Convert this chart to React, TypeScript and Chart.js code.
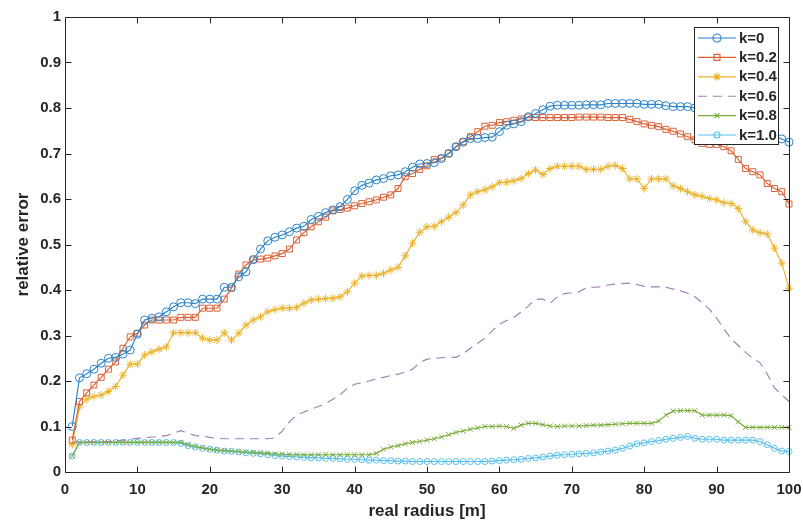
import React, { useEffect, useRef } from 'react';
import { Chart, registerables } from 'chart.js';
import { drawPoint } from 'chart.js/helpers';

Chart.register(...registerables);

// ---------- data ----------
const radius = [
  1, 2, 3, 4, 5, 6, 7, 8, 9, 10, 11, 12, 13, 14, 15, 16, 17, 18, 19, 20,
  21, 22, 23, 24, 25, 26, 27, 28, 29, 30, 31, 32, 33, 34, 35, 36, 37, 38, 39, 40,
  41, 42, 43, 44, 45, 46, 47, 48, 49, 50, 51, 52, 53, 54, 55, 56, 57, 58, 59, 60,
  61, 62, 63, 64, 65, 66, 67, 68, 69, 70, 71, 72, 73, 74, 75, 76, 77, 78, 79, 80,
  81, 82, 83, 84, 85, 86, 87, 88, 89, 90, 91, 92, 93, 94, 95, 96, 97, 98, 99, 100,
];

const errK0 = [
  0.100, 0.207, 0.216, 0.226, 0.239, 0.250, 0.252, 0.259, 0.268, 0.303,
  0.334, 0.338, 0.341, 0.352, 0.363, 0.372, 0.372, 0.370, 0.380, 0.380,
  0.380, 0.406, 0.406, 0.429, 0.440, 0.467, 0.490, 0.508, 0.516, 0.521,
  0.528, 0.536, 0.540, 0.555, 0.562, 0.570, 0.576, 0.583, 0.599, 0.618,
  0.630, 0.635, 0.642, 0.645, 0.651, 0.653, 0.660, 0.670, 0.677, 0.678,
  0.680, 0.689, 0.700, 0.715, 0.725, 0.733, 0.733, 0.735, 0.736, 0.748,
  0.762, 0.765, 0.770, 0.781, 0.788, 0.796, 0.804, 0.806, 0.806, 0.806,
  0.806, 0.807, 0.807, 0.807, 0.810, 0.810, 0.810, 0.810, 0.810, 0.808,
  0.808, 0.808, 0.805, 0.803, 0.803, 0.803, 0.800, 0.800, 0.798, 0.795,
  0.790, 0.785, 0.778, 0.770, 0.762, 0.755, 0.746, 0.738, 0.732, 0.725,
];

const errK02 = [
  0.070, 0.155, 0.174, 0.191, 0.208, 0.226, 0.242, 0.272, 0.297, 0.305,
  0.323, 0.334, 0.334, 0.334, 0.334, 0.340, 0.340, 0.340, 0.360, 0.360,
  0.360, 0.380, 0.404, 0.435, 0.455, 0.466, 0.468, 0.470, 0.475, 0.480,
  0.490, 0.510, 0.526, 0.539, 0.550, 0.560, 0.574, 0.577, 0.580, 0.585,
  0.590, 0.594, 0.598, 0.604, 0.609, 0.623, 0.649, 0.656, 0.665, 0.673,
  0.687, 0.690, 0.700, 0.715, 0.726, 0.737, 0.748, 0.760, 0.762, 0.768,
  0.770, 0.773, 0.776, 0.780, 0.779, 0.779, 0.779, 0.779, 0.779, 0.779,
  0.780, 0.780, 0.780, 0.780, 0.779, 0.779, 0.779, 0.775, 0.770, 0.765,
  0.762, 0.759, 0.753, 0.749, 0.743, 0.737, 0.730, 0.722, 0.720, 0.720,
  0.715, 0.706, 0.687, 0.667, 0.660, 0.653, 0.634, 0.623, 0.616, 0.589,
];

const errK04 = [
  0.060, 0.143, 0.160, 0.166, 0.169, 0.177, 0.188, 0.213, 0.237, 0.237,
  0.257, 0.264, 0.270, 0.275, 0.306, 0.306, 0.306, 0.306, 0.294, 0.290,
  0.290, 0.306, 0.290, 0.305, 0.323, 0.334, 0.341, 0.352, 0.357, 0.360,
  0.360, 0.362, 0.371, 0.378, 0.380, 0.381, 0.382, 0.385, 0.396, 0.415,
  0.431, 0.432, 0.432, 0.437, 0.444, 0.450, 0.475, 0.503, 0.527, 0.539,
  0.540, 0.550, 0.560, 0.570, 0.587, 0.609, 0.616, 0.620, 0.627, 0.636,
  0.637, 0.640, 0.645, 0.656, 0.664, 0.654, 0.667, 0.672, 0.672, 0.672,
  0.672, 0.665, 0.665, 0.665, 0.672, 0.674, 0.667, 0.644, 0.644, 0.623,
  0.644, 0.644, 0.644, 0.629, 0.623, 0.616, 0.609, 0.606, 0.601, 0.598,
  0.592, 0.590, 0.579, 0.550, 0.532, 0.526, 0.523, 0.492, 0.459, 0.404,
];

const errK06 = [
  0.065, 0.066, 0.066, 0.066, 0.066, 0.067, 0.068, 0.070, 0.072, 0.074,
  0.075, 0.077, 0.078, 0.080, 0.085, 0.091, 0.085, 0.080, 0.079, 0.076,
  0.074, 0.073, 0.073, 0.073, 0.073, 0.073, 0.073, 0.073, 0.075, 0.090,
  0.110, 0.125, 0.132, 0.138, 0.144, 0.150, 0.160, 0.170, 0.184, 0.193,
  0.196, 0.200, 0.205, 0.208, 0.212, 0.215, 0.220, 0.226, 0.240, 0.248,
  0.250, 0.251, 0.252, 0.252, 0.260, 0.272, 0.283, 0.294, 0.310, 0.325,
  0.333, 0.340, 0.352, 0.365, 0.380, 0.380, 0.371, 0.385, 0.392, 0.394,
  0.396, 0.405, 0.406, 0.407, 0.411, 0.413, 0.414, 0.415, 0.412, 0.408,
  0.407, 0.407, 0.406, 0.402, 0.398, 0.393, 0.385, 0.372, 0.358, 0.338,
  0.315, 0.293, 0.278, 0.263, 0.250, 0.240, 0.215, 0.185, 0.170, 0.155,
];

const errK08 = [
  0.035, 0.065, 0.065, 0.065, 0.065, 0.065, 0.065, 0.065, 0.065, 0.065,
  0.065, 0.065, 0.065, 0.065, 0.065, 0.065, 0.060, 0.056, 0.053, 0.050,
  0.048, 0.047, 0.046, 0.045, 0.044, 0.043, 0.042, 0.041, 0.040, 0.039,
  0.038, 0.038, 0.038, 0.038, 0.038, 0.038, 0.038, 0.038, 0.038, 0.038,
  0.038, 0.038, 0.041, 0.050, 0.055, 0.058, 0.062, 0.065, 0.067, 0.070,
  0.073, 0.077, 0.082, 0.087, 0.090, 0.094, 0.097, 0.100, 0.100, 0.101,
  0.100, 0.096, 0.103, 0.107, 0.107, 0.104, 0.101, 0.100, 0.101, 0.101,
  0.101, 0.102, 0.103, 0.103, 0.104, 0.105, 0.106, 0.107, 0.107, 0.107,
  0.107, 0.112, 0.125, 0.134, 0.135, 0.135, 0.135, 0.125, 0.125, 0.125,
  0.125, 0.124, 0.110, 0.098, 0.098, 0.098, 0.098, 0.098, 0.098, 0.098,
];

const errK10 = [
  0.035, 0.065, 0.065, 0.065, 0.065, 0.065, 0.065, 0.065, 0.065, 0.065,
  0.065, 0.065, 0.065, 0.065, 0.065, 0.063, 0.058, 0.055, 0.052, 0.050,
  0.048, 0.046, 0.045, 0.044, 0.042, 0.041, 0.040, 0.038, 0.036, 0.035,
  0.034, 0.033, 0.032, 0.031, 0.031, 0.030, 0.030, 0.029, 0.028, 0.028,
  0.027, 0.026, 0.026, 0.025, 0.025, 0.024, 0.024, 0.023, 0.023, 0.023,
  0.023, 0.023, 0.023, 0.023, 0.023, 0.023, 0.023, 0.023, 0.024, 0.025,
  0.026, 0.027, 0.028, 0.030, 0.031, 0.033, 0.035, 0.037, 0.038, 0.039,
  0.040, 0.041, 0.042, 0.044, 0.046, 0.048, 0.052, 0.057, 0.062, 0.064,
  0.067, 0.069, 0.072, 0.074, 0.076, 0.078, 0.074, 0.072, 0.072, 0.072,
  0.070, 0.070, 0.070, 0.070, 0.070, 0.067, 0.060, 0.052, 0.046, 0.045,
];

const seriesLabels = ['k=0', 'k=0.2', 'k=0.4', 'k=0.6', 'k=0.8', 'k=1.0'];
const xTickValues = [0, 10, 20, 30, 40, 50, 60, 70, 80, 90, 100];
const yTickValues = [0, 0.1, 0.2, 0.3, 0.4, 0.5, 0.6, 0.7, 0.8, 0.9, 1];
const xTitle = 'real radius [m]';
const yTitle = 'relative error';

// ---------- styles ----------
const FONT = '"Liberation Sans", Arial, Helvetica, sans-serif';
const AXIS_COLOR = '#262626';
const TICK_LEN = 6;
const LINE_W = 1.15;

type SeriesStyle = {
  color: string;
  pointStyle: any;
  radius: number;
  dash: number[];
};

const seriesStyles: SeriesStyle[] = [
  { color: '#2a84c8', pointStyle: 'circle', radius: 4, dash: [] },
  { color: '#da6236', pointStyle: 'rect', radius: 4.2, dash: [] },
  { color: '#ebb22a', pointStyle: 'star', radius: 4, dash: [] },
  { color: '#a47db3', pointStyle: false, radius: 0, dash: [9, 6] },
  { color: '#79ac38', pointStyle: 'crossRot', radius: 3.5, dash: [] },
  { color: '#57bfec', pointStyle: 'circle', radius: 3, dash: [] },
];

const seriesValues = [errK0, errK02, errK04, errK06, errK08, errK10];

const framePlugin = {
  id: 'matlabFrame',
  afterDatasetsDraw(chart: any) {
    const { ctx, chartArea } = chart;
    const xs = chart.scales.x;
    const ys = chart.scales.y;
    const L = Math.round(chartArea.left) + 0.5;
    const R = Math.round(chartArea.right) + 0.5;
    const T = Math.round(chartArea.top) + 0.5;
    const B = Math.round(chartArea.bottom) + 0.5;
    ctx.save();
    ctx.strokeStyle = AXIS_COLOR;
    ctx.lineWidth = 1;
    ctx.setLineDash([]);
    ctx.beginPath();
    ctx.rect(L, T, R - L, B - T);
    for (const v of xTickValues) {
      const px = Math.round(xs.getPixelForValue(v)) + 0.5;
      ctx.moveTo(px, B);
      ctx.lineTo(px, B - TICK_LEN);
      ctx.moveTo(px, T);
      ctx.lineTo(px, T + TICK_LEN);
    }
    for (const v of yTickValues) {
      const py = Math.round(ys.getPixelForValue(v)) + 0.5;
      ctx.moveTo(L, py);
      ctx.lineTo(L + TICK_LEN, py);
      ctx.moveTo(R, py);
      ctx.lineTo(R - TICK_LEN, py);
    }
    ctx.stroke();
    ctx.restore();
  },
};

const legendPlugin = {
  id: 'matlabLegend',
  afterDraw(chart: any) {
    const { ctx, chartArea } = chart;
    const boxRight = chartArea.right - 11;
    const boxLeft = boxRight - 84;
    const boxTop = chartArea.top + 10;
    const rowH = 19.4;
    const boxBottom = boxTop + rowH * seriesLabels.length + 1;
    ctx.save();
    ctx.fillStyle = '#ffffff';
    ctx.fillRect(boxLeft, boxTop, boxRight - boxLeft, boxBottom - boxTop);
    ctx.strokeStyle = AXIS_COLOR;
    ctx.lineWidth = 1;
    ctx.strokeRect(Math.round(boxLeft) + 0.5, Math.round(boxTop) + 0.5,
      Math.round(boxRight - boxLeft), Math.round(boxBottom - boxTop));
    ctx.font = `bold 15px ${FONT}`;
    ctx.textBaseline = 'middle';
    ctx.textAlign = 'left';
    seriesLabels.forEach((label, i) => {
      const st = seriesStyles[i];
      const cy = boxTop + 11 + i * rowH;
      const x0 = boxLeft + 4;
      const x1 = boxLeft + 42;
      ctx.strokeStyle = st.color;
      ctx.lineWidth = LINE_W;
      ctx.setLineDash(st.dash);
      ctx.beginPath();
      ctx.moveTo(x0, cy);
      ctx.lineTo(x1, cy);
      ctx.stroke();
      ctx.setLineDash([]);
      if (st.pointStyle) {
        ctx.fillStyle = 'rgba(0,0,0,0)';
        drawPoint(ctx, { pointStyle: st.pointStyle, radius: st.radius, rotation: 0, borderWidth: 1 } as any,
          (x0 + x1) / 2, cy);
      }
      ctx.fillStyle = AXIS_COLOR;
      ctx.fillText(label, x1 + 3, cy + 0.5);
    });
    ctx.restore();
  },
};

export default function App() {
  const canvasRef = useRef<HTMLCanvasElement | null>(null);

  useEffect(() => {
    const canvas = canvasRef.current;
    if (!canvas) return;
    const datasets = seriesLabels.map((label, i) => {
      const st = seriesStyles[i];
      return {
        label,
        data: radius.map((r, j) => ({ x: r, y: seriesValues[i][j] })),
        borderColor: st.color,
        backgroundColor: st.color,
        borderWidth: LINE_W,
        borderDash: st.dash,
        pointStyle: st.pointStyle,
        pointRadius: st.radius,
        pointHoverRadius: st.radius,
        pointBorderColor: st.color,
        pointBackgroundColor: 'rgba(0,0,0,0)',
        pointBorderWidth: 1,
        tension: 0,
        fill: false,
        clip: false as any,
      };
    });

    const chart = new Chart(canvas, {
      type: 'line',
      data: { datasets },
      options: {
        responsive: false,
        animation: false,
        events: [],
        layout: { padding: { left: 0, right: 14, top: 17, bottom: 0 } },
        plugins: {
          legend: { display: false },
          tooltip: { enabled: false },
        },
        scales: {
          x: {
            type: 'linear',
            min: 0,
            max: 100,
            grid: { display: false, drawTicks: false },
            border: { display: false },
            ticks: {
              stepSize: 10,
              padding: 9,
              color: AXIS_COLOR,
              font: { family: FONT, size: 15, weight: 'bold' },
              maxRotation: 0,
            },
            title: {
              display: true,
              text: xTitle,
              color: AXIS_COLOR,
              font: { family: FONT, size: 17, weight: 'bold' },
              padding: { top: 0, bottom: 1 },
            },
            afterFit: (scale: any) => {
              scale.height = 51;
              scale.paddingLeft = 0;
              scale.paddingRight = 0;
            },
          },
          y: {
            type: 'linear',
            min: 0,
            max: 1,
            grid: { display: false, drawTicks: false },
            border: { display: false },
            ticks: {
              stepSize: 0.1,
              padding: 4,
              color: AXIS_COLOR,
              font: { family: FONT, size: 15, weight: 'bold' },
              callback: (v: any) => {
                const n = Number(v);
                if (Math.abs(n) < 1e-9) return '0';
                if (Math.abs(n - 1) < 1e-9) return '1';
                return n.toFixed(1);
              },
            },
            title: {
              display: true,
              text: yTitle,
              color: AXIS_COLOR,
              font: { family: FONT, size: 17, weight: 'bold' },
              padding: { top: 13, bottom: 0 },
            },
            afterFit: (scale: any) => {
              scale.width = 65;
              scale.paddingTop = 0;
              scale.paddingBottom = 0;
            },
          },
        },
      },
      plugins: [framePlugin, legendPlugin],
    });

    return () => {
      chart.destroy();
    };
  }, []);

  return (
    <div style={{ position: 'absolute', left: 0, top: 0, width: 803, height: 523, background: '#ffffff' }}>
      <canvas ref={canvasRef} width={803} height={523} style={{ display: 'block' }} />
    </div>
  );
}
